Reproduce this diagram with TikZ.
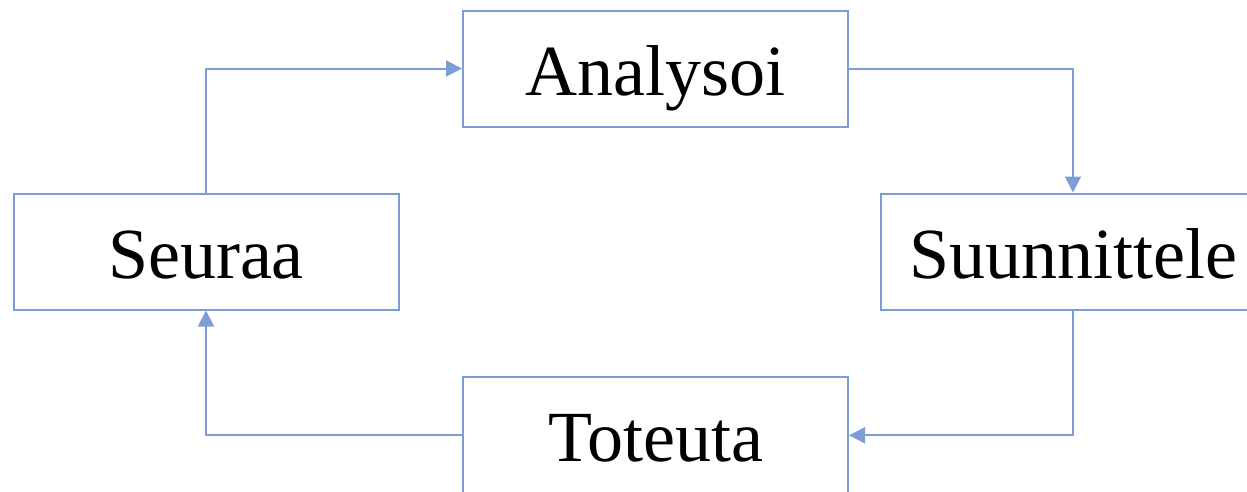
\documentclass[tikz,border=0pt]{standalone}
\usepackage{fontspec}
\setmainfont{Liberation Serif}
\usetikzlibrary{arrows.meta}
\definecolor{linkblue}{RGB}{125,157,214}
\begin{document}
\begin{tikzpicture}[x=1pt,y=-1pt,
  stagebox/.style={draw=linkblue, line width=2pt, fill=white, rectangle,
    minimum width=385pt, minimum height=116pt, inner sep=0pt,
    text height=53pt, text depth=0pt,
    font=\fontsize{72}{80}\selectfont},
  link/.style={draw=linkblue, line width=2pt, -{Triangle[length=16pt,width=16pt]}}]
\clip (0,0) rectangle (1247,491);
\node[stagebox] (an) at (655.5,68.5) {Analysoi};
\node[stagebox] (se) at (206,251.5) {Seuraa};
\node[stagebox] (su) at (1073,251.5) {Suunnittele};
\node[stagebox] (to) at (655.5,435.3) {Toteuta};
\draw[link] (se.north) |- (an.west);
\draw[link] (an.east) -| (su.north);
\draw[link] (su.south) |- (to.east);
\draw[link] (to.west) -| (se.south);
\end{tikzpicture}
\end{document}
